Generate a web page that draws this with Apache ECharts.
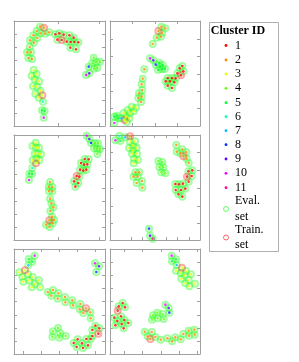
<!DOCTYPE html>
<html>
<head>
<meta charset="utf-8">
<script src="https://cdn.jsdelivr.net/npm/echarts@6/dist/echarts.min.js"></script>
<style>
html,body{margin:0;padding:0;background:#fff;}
#chart{width:299px;height:362px;}
</style>
</head>
<body>
<div id="chart"></div>
<script>
// Cluster ids and their colours (hsv(11))
const clusterIds = ['1','2','3','4','5','6','7','8','9','10','11'];
const clusterColors = ['#ff0000','#ff8b00','#e8ff00','#5dff00','#00ff2e','#00ffb9','#00b9ff','#002eff','#5d00ff','#e800ff','#ff008b'];
const setNames = ['Eval.\nset','Train.\nset'];

// Embedding points per panel: [x, y, clusterId, isTrain]
const panel1 = [
[120,80,2,0],[132,83,2,1],[110,93,2,0],[122,100,2,0],[135,101,2,0],[148,97,2,0],[100,106,2,0],[112,114,2,0],[90,121,2,0],[102,128,2,0],[89,141,2,0],[81,157,2,0],[93,157,2,0],[85,174,2,0],[96,177,2,0],
[166,103,1,0],[178,100,1,0],[191,104,1,0],[208,106,1,0],[221,113,1,0],[172,119,1,0],[185,120,1,1],[200,125,1,0],[212,126,1,0],[223,126,1,0],[235,127,1,0],[211,143,1,0],[228,148,1,0],
[281,173,4,0],[277,190,4,0],[289,186,4,0],[300,185,4,0],[283,206,4,0],[292,203,4,0],[266,200,8,0],[268,220,9,0],[258,225,10,0],
[101,210,3,0],[110,222,3,0],[95,227,3,0],[104,238,3,0],[117,244,3,0],[99,259,3,0],[111,260,3,0],[121,272,3,0],[106,281,3,0],[127,286,3,1],[116,293,3,0],[129,305,6,0],[126,331,5,0],[134,333,5,0],[131,353,10,0]
];
const panel2 = [
[186,80,2,0],[198,85,2,0],[177,93,2,1],[188,98,2,0],[185,110,2,0],[172,113,2,0],[160,132,2,0],[135,208,2,0],
[152,175,10,0],[162,181,9,0],[169,194,8,0],[180,188,5,0],[190,195,5,0],[182,200,5,0],[176,210,5,0],[188,208,5,0],[197,207,5,0],
[249,198,1,0],[241,205,1,0],[252,214,1,0],[234,220,1,0],[245,226,1,1],[205,234,1,0],[218,234,1,0],[229,235,1,0],[199,244,1,0],[212,244,1,0],[225,247,1,0],[205,257,1,0],[218,264,1,0],
[130,236,2,0],[127,253,2,0],[129,270,2,0],[119,280,2,0],[127,290,2,0],[117,294,2,0],[125,306,2,0],
[110,323,3,0],[97,320,3,0],[85,330,3,0],[103,334,3,0],[92,340,3,0],[73,339,3,0],[80,350,3,0],[90,355,3,0],[76,360,3,1],[83,366,3,0],[66,355,7,0],[58,355,5,0],[52,347,5,0],[45,350,5,0],[45,369,10,0]
];
const panel3 = [
[107,68,3,0],[97,78,3,0],[108,82,3,0],[117,83,3,0],[104,101,3,0],[113,101,3,0],[123,103,3,0],[109,115,3,0],[118,121,3,0],[98,121,3,0],[108,130,3,1],[97,144,6,0],[88,161,5,0],[96,162,5,0],[87,180,10,0],
[260,47,10,0],[268,57,9,0],[273,69,8,0],[285,70,4,0],[294,70,4,0],[282,85,4,0],[292,86,4,0],[300,88,4,0],[292,102,4,0],
[254,117,1,0],[266,118,1,0],[243,129,1,0],[252,134,1,0],[262,133,1,0],[240,149,1,0],[250,152,1,0],[259,149,1,0],[230,168,1,1],[238,170,1,0],[222,184,1,0],[235,189,1,0],[226,200,1,0],
[150,186,2,0],[146,200,2,0],[157,201,2,0],[147,213,2,0],[157,214,2,0],[150,236,2,0],[154,250,2,0],[160,262,2,0],[151,273,2,0],[156,290,2,0],[148,301,2,1],[162,300,2,0],[158,310,2,0],[138,314,2,0],[149,321,2,0]
];
const panel4 = [
[48,61,10,0],[60,48,6,0],[63,63,5,0],[77,52,7,0],[92,49,2,1],[92,65,3,0],[107,64,3,0],[101,77,3,0],[89,84,3,0],[112,83,3,0],[101,91,3,0],[113,101,3,0],[98,101,3,0],[104,116,3,0],[116,120,3,0],[103,130,3,0],
[108,157,2,0],[120,157,2,0],[102,170,2,0],[115,170,2,0],[128,183,2,0],[112,189,2,0],[129,203,2,0],
[177,123,4,0],[189,126,4,0],[180,141,4,0],[192,142,4,0],[186,157,4,0],[198,160,4,0],
[231,75,2,0],[249,88,2,0],[232,95,2,0],[261,97,2,0],[243,100,2,0],[252,109,2,1],[262,116,2,0],[268,129,2,0],
[267,154,1,0],[279,151,1,0],[263,170,1,1],[277,168,1,0],[268,185,1,0],[228,192,1,0],[239,193,1,0],[251,191,1,0],[229,210,1,0],[245,210,1,0],[258,206,1,0],[237,223,1,0],[249,230,1,0],
[149,326,8,0],[152,347,9,0],[160,356,11,0]
];
const panel5 = [
[86,57,5,0],[104,47,10,0],[97,65,5,0],[85,76,7,0],[75,91,3,1],[58,97,3,0],[84,103,3,0],[67,111,3,0],[98,111,3,0],[70,125,3,0],[88,121,3,0],[105,132,3,0],[117,121,3,0],[95,142,3,0],[120,142,3,0],
[285,70,10,0],[297,79,9,0],[289,96,8,0],
[143,156,2,0],[159,150,2,0],[154,167,2,0],[175,160,2,0],[173,176,2,0],[195,171,2,0],[196,187,2,0],[217,181,2,0],[219,196,2,0],[241,192,2,0],[239,208,2,0],[258,205,2,1],[250,219,2,0],[271,217,2,0],[272,235,2,0],
[159,274,4,0],[174,264,4,0],[181,280,4,0],[157,290,4,0],[178,293,4,0],[197,288,4,0],
[286,257,1,0],[298,265,1,0],[277,270,1,0],[295,281,1,1],[277,288,1,0],[259,297,1,0],[272,297,1,0],[233,298,1,0],[221,309,1,0],[246,310,1,0],[230,321,1,0],[249,324,1,0],[264,316,1,0]
];
const panel6 = [
[217,47,10,0],[230,58,5,0],[218,64,5,0],[232,75,7,0],[248,83,3,1],[230,92,3,0],[244,99,3,0],[260,93,3,0],[275,103,3,0],[256,106,3,0],[246,116,3,0],[268,120,3,0],[258,130,3,0],[287,131,3,0],[270,139,3,0],
[70,189,1,0],[58,199,1,0],[77,202,1,0],[55,212,1,1],[65,229,1,0],[45,233,1,0],[75,240,1,0],[54,243,1,0],[87,249,1,0],[48,256,1,0],[67,252,1,0],[73,265,1,0],
[198,194,10,0],[208,204,9,0],[210,218,8,0],[174,218,4,0],[161,226,4,0],[190,222,4,0],[158,239,4,0],[175,235,4,0],[193,237,4,0],
[136,275,2,0],[157,276,2,0],[145,289,2,0],[153,297,2,1],[168,291,2,0],[184,299,2,0],[204,295,2,0],[218,304,2,0],[228,292,2,0],[244,298,2,0],[252,282,2,0],[268,272,2,0],[269,287,2,0],[285,269,2,0],[286,284,2,0]
];
const panels = [panel1, panel2, panel3, panel4, panel5, panel6];

// Axis extents (embedding units) and tick values per panel
const xExtents = [[42,315],[32,302],[42,315],[32,302],[42,315],[32,302]];
const yExtents = [[63,378],[63,378],[45,360],[45,360],[27,342],[27,342]];
const xTicks = [[174,297],[100,167,234],[174,297],[95,130,165,200,235,270],[70,124,178,232,286],[75,130,185,240,295]];
const yTicks = [[102,142,182,222,262,301,341],[118,170,222,274,326],[85,125,164,204,243,283,322],[97,150,204,258,311],[66,105,145,185,225,265,304],[68,107,146,185,225,264,303]];

// ---------- layout ----------
const colLeft = [14, 110];
const colWidth = [91, 90];
const rowTop = [21, 135, 249];
const rowHeight = 105;
const axisColor = '#a0a0a0';
const serif = '"Liberation Serif","DejaVu Serif",serif';

const grids = [], xAxes = [], yAxes = [], series = [];
panels.forEach((pts, i) => {
  const c = i % 2, r = Math.floor(i / 2);
  grids.push({left: colLeft[c], top: rowTop[r], width: colWidth[c], height: rowHeight, show: false});
  const tickStyle = {color: axisColor, width: 1};
  ['bottom','top'].forEach(pos => xAxes.push({
    gridIndex: i, type: 'value', position: pos, min: xExtents[i][0], max: xExtents[i][1],
    axisLine: {show: true, onZero: false, lineStyle: {color: axisColor, width: 1}},
    axisTick: {show: true, inside: true, length: 3, customValues: xTicks[i], lineStyle: tickStyle},
    axisLabel: {show: false}, splitLine: {show: false}
  }));
  ['left','right'].forEach(pos => yAxes.push({
    gridIndex: i, type: 'value', position: pos, inverse: true, min: yExtents[i][0], max: yExtents[i][1],
    axisLine: {show: true, onZero: false, lineStyle: {color: axisColor, width: 1}},
    axisTick: {show: true, inside: true, length: 3, customValues: yTicks[i], lineStyle: tickStyle},
    axisLabel: {show: false}, splitLine: {show: false}
  }));
  const ax = {xAxisIndex: 2 * i, yAxisIndex: 2 * i};
  series.push(Object.assign({
    type: 'scatter', name: setNames[0], symbol: 'circle', symbolSize: 6, z: 2,
    data: pts.filter(p => p[3] === 0),
    itemStyle: {color: 'rgba(255,255,255,0)', borderColor: 'rgba(40,255,40,0.55)', borderWidth: 2}
  }, ax));
  series.push(Object.assign({
    type: 'scatter', name: setNames[1], symbol: 'circle', symbolSize: 6, z: 3,
    data: pts.filter(p => p[3] === 1),
    itemStyle: {color: 'rgba(255,255,255,0)', borderColor: 'rgba(255,40,40,0.5)', borderWidth: 2}
  }, ax));
  series.push(Object.assign({
    type: 'scatter', name: 'cluster', symbol: 'circle', symbolSize: 2.6, z: 4,
    data: pts,
    itemStyle: {color: p => clusterColors[p.value[2] - 1]}
  }, ax));
});

// ---------- legend (drawn as graphic) ----------
const legendX = 209.5, legendY = 22.5, legendW = 69, legendH = 229;
const entryY = [45.5, 60, 74, 88.3, 102.7, 116.7, 130.7, 144.7, 159, 173.3, 187.7];
const g = [];
g.push({type: 'rect', shape: {x: legendX, y: legendY, width: legendW, height: legendH},
  style: {fill: '#fff', stroke: '#b0b0b0', lineWidth: 1}, z: 10});
g.push({type: 'text', x: 238, y: 31, style: {text: 'Cluster ID', font: 'bold 12px ' + serif, fill: '#000', textAlign: 'center', textVerticalAlign: 'middle'}, z: 11});
clusterIds.forEach((id, k) => {
  g.push({type: 'circle', shape: {cx: 226, cy: entryY[k], r: 1.4}, style: {fill: clusterColors[k]}, z: 11});
  g.push({type: 'text', x: 235, y: entryY[k], style: {text: id, font: '12px ' + serif, fill: '#000', textVerticalAlign: 'middle'}, z: 11});
});
g.push({type: 'circle', shape: {cx: 226, cy: 209, r: 2.5}, style: {fill: 'none', stroke: 'rgba(40,255,40,0.7)', lineWidth: 1}, z: 11});
g.push({type: 'text', x: 235, y: 201, style: {text: 'Eval.', font: '12px ' + serif, fill: '#000', textVerticalAlign: 'middle'}, z: 11});
g.push({type: 'text', x: 235, y: 217, style: {text: 'set', font: '12px ' + serif, fill: '#000', textVerticalAlign: 'middle'}, z: 11});
g.push({type: 'circle', shape: {cx: 226, cy: 237.5, r: 2.5}, style: {fill: 'none', stroke: 'rgba(255,40,40,0.7)', lineWidth: 1}, z: 11});
g.push({type: 'text', x: 235, y: 230, style: {text: 'Train.', font: '12px ' + serif, fill: '#000', textVerticalAlign: 'middle'}, z: 11});
g.push({type: 'text', x: 235, y: 245, style: {text: 'set', font: '12px ' + serif, fill: '#000', textVerticalAlign: 'middle'}, z: 11});

const chart = echarts.init(document.getElementById('chart'), null, {renderer: 'canvas'});
chart.setOption({
  animation: false,
  backgroundColor: '#fff',
  grid: grids,
  xAxis: xAxes,
  yAxis: yAxes,
  series: series,
  graphic: g
});
</script>
</body>
</html>
